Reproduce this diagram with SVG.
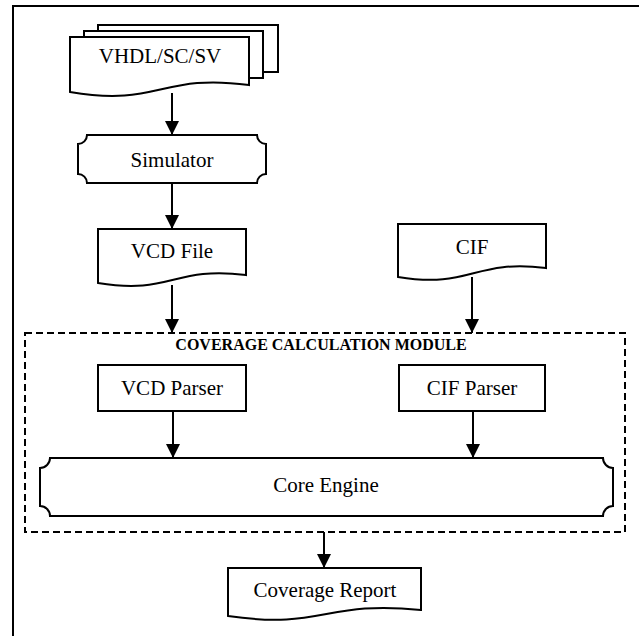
<svg xmlns="http://www.w3.org/2000/svg" width="639" height="636" viewBox="0 0 639 636">
  <style>
    .shape { fill: #ffffff; stroke: #000000; stroke-width: 2; }
    .label { font-family: "Liberation Serif", "Times New Roman", serif; font-size: 21px; fill: #000000; text-anchor: middle; }
    .title { font-family: "Liberation Serif", "Times New Roman", serif; font-size: 16px; font-weight: bold; fill: #000000; text-anchor: middle; }
    .edge { fill: none; stroke: #000000; stroke-width: 2; marker-end: url(#arrow); }
    .frame { fill: none; stroke: #000000; stroke-width: 2; }
    .module { fill: none; stroke: #000000; stroke-width: 2; stroke-dasharray: 7 4; }
  </style>
  <defs>
    <marker id="arrow" markerUnits="userSpaceOnUse" markerWidth="14" markerHeight="14" refX="14" refY="7" orient="auto">
      <path d="M0,0 L14,7 L0,14 Z" fill="#000000"/>
    </marker>
  </defs>

  <rect width="639" height="636" fill="#ffffff"/>

  <!-- page frame -->
  <path class="frame" d="M13,636 V6 H639"/>

  <!-- source files (stacked documents) -->
  <g id="sources">
    <rect class="shape" x="98" y="25" width="180" height="47"/>
    <rect class="shape" x="84" y="31" width="179" height="47"/>
    <path class="shape" d="M70,37 H249 V85 C160,73 160,107 70,92 Z"/>
    <text class="label" x="160" y="63">VHDL/SC/SV</text>
  </g>

  <!-- simulator -->
  <g id="simulator">
    <path class="shape" d="M87,135 H257 A9,9 0 0 0 266,144 V174 A9,9 0 0 0 257,183 H87 A9,9 0 0 0 78,174 V144 A9,9 0 0 0 87,135 Z"/>
    <text class="label" x="172" y="167">Simulator</text>
  </g>

  <!-- VCD file -->
  <g id="vcd-file">
    <path class="shape" d="M98,229 H246 V275 C172,266 172,295 98,283 Z"/>
    <text class="label" x="172" y="258">VCD File</text>
  </g>

  <!-- CIF file -->
  <g id="cif-file">
    <path class="shape" d="M398,224 H546 V268 C472,259 472,289 398,277 Z"/>
    <text class="label" x="472" y="254">CIF</text>
  </g>

  <!-- coverage calculation module -->
  <g id="module">
    <rect class="module" x="25" y="333" width="600" height="199"/>
    <text class="title" x="321" y="350">COVERAGE CALCULATION MODULE</text>
  </g>

  <g id="vcd-parser">
    <rect class="shape" x="98" y="365" width="148" height="46"/>
    <text class="label" x="172" y="395">VCD Parser</text>
  </g>

  <g id="cif-parser">
    <rect class="shape" x="399" y="365" width="146" height="46"/>
    <text class="label" x="472" y="395">CIF Parser</text>
  </g>

  <g id="core-engine">
    <path class="shape" d="M50,458 H603 A10,10 0 0 0 613,468 V506 A10,10 0 0 0 603,516 H50 A10,10 0 0 0 40,506 V468 A10,10 0 0 0 50,458 Z"/>
    <text class="label" x="326" y="492">Core Engine</text>
  </g>

  <!-- coverage report -->
  <g id="coverage-report">
    <path class="shape" d="M228,568 H421 V610 C324,600 324,630 228,616 Z"/>
    <text class="label" x="325" y="597">Coverage Report</text>
  </g>

  <!-- connectors -->
  <g id="connectors">
    <path class="edge" d="M172,93 V135"/>
    <path class="edge" d="M172,183 V229"/>
    <path class="edge" d="M172,285 V333"/>
    <path class="edge" d="M472,277 V333"/>
    <path class="edge" d="M173,411 V458"/>
    <path class="edge" d="M473,411 V458"/>
    <path class="edge" d="M324,532 V568"/>
  </g>
</svg>
